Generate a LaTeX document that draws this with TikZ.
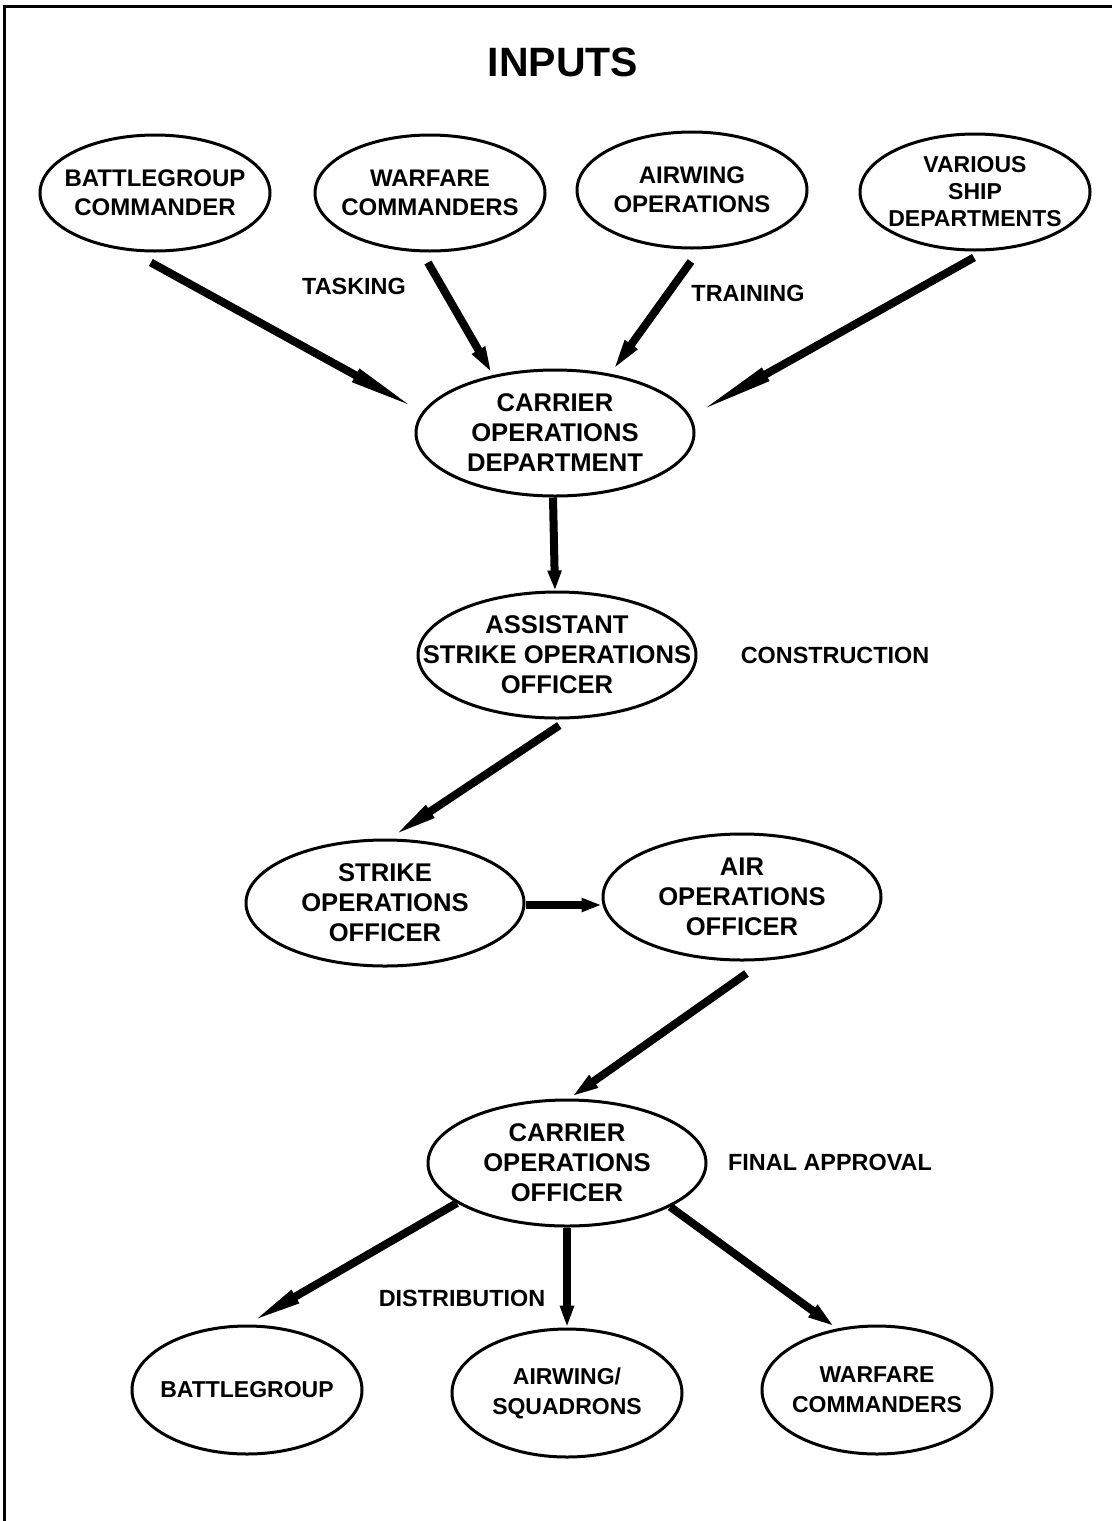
\documentclass[tikz,border=0pt]{standalone}
\usepackage{fontspec}
\setmainfont{Liberation Sans}
\usetikzlibrary{shapes.geometric,arrows.meta,calc}
\tikzset{
  el/.style={ellipse, draw, line width=1.5pt, inner xsep=-40pt, inner ysep=-20pt, align=center},
  small/.style={el, minimum width=115pt, minimum height=58pt, font=\bfseries\fontsize{12}{14.5}\selectfont},
  big/.style={el, minimum width=139pt, minimum height=63pt, font=\bfseries\fontsize{12.8}{15}\selectfont},
  low/.style={el, minimum width=115pt, minimum height=64pt, font=\bfseries\fontsize{11.5}{15}\selectfont},
  lab/.style={font=\bfseries\fontsize{11.7}{14}\selectfont, inner sep=0pt},
  arr/.style={line width=4pt, -{Triangle[length=#1, width=6.5pt]}},
}
\begin{document}
\begin{tikzpicture}[x=0.5pt,y=-0.5pt]
\useasboundingbox (0,0) rectangle (1112,1521);
% frame
\draw[line width=1.5pt] (4,1521) -- (4,6) -- (1112,6);
% title
\node[font=\bfseries\fontsize{20.5}{25}\selectfont, inner sep=0pt] (title) at (563,62) {INPUTS};
% input ellipses
\node[small] (bgc) at (155,193) {BATTLEGROUP\\COMMANDER};
\node[small] (wc)  at (430,193) {WARFARE\\COMMANDERS};
\node[small] (awo) at (692,190) {AIRWING\\OPERATIONS};
\node[small, font=\bfseries\fontsize{11.5}{13.5}\selectfont] (vsd) at (975,192) {\raisebox{2pt}{\parbox{110pt}{\centering VARIOUS\\SHIP\\DEPARTMENTS}}};
% chain
\node[big] (cod)  at (555,433) {CARRIER\\OPERATIONS\\DEPARTMENT};
\node[big] (asoo) at (557,655) {ASSISTANT\\STRIKE OPERATIONS\\OFFICER};
\node[big] (soo)  at (385,903) {STRIKE\\OPERATIONS\\OFFICER};
\node[big] (aoo)  at (742,897) {AIR\\OPERATIONS\\OFFICER};
\node[big] (coo)  at (567,1163) {CARRIER\\OPERATIONS\\OFFICER};
% outputs
\node[low] (bg)  at (247,1390) {BATTLEGROUP};
\node[low] (aws) at (567,1393) {AIRWING/\\SQUADRONS};
\node[low] (wc2) at (877,1390) {WARFARE\\COMMANDERS};
% labels
\node[lab] (tasking)  at (354,286)  {TASKING};
\node[lab] (training) at (748,293)  {TRAINING};
\node[lab] (constr)   at (835,655)  {CONSTRUCTION};
\node[lab] (final)    at (830,1162) {FINAL APPROVAL};
\node[lab] (distr)    at (462,1298) {DISTRIBUTION};
% connectors
\draw[arr=38pt]   ([yshift=-5pt]bgc.-94) -- (cod.171);
\draw[arr=14.5pt] ([yshift=-5pt]wc.-92)  -- (cod.137);
\draw[arr=18pt]   ([yshift=-6pt]awo.-91) -- (cod.47);
\draw[arr=43pt]   ([yshift=-3pt]vsd.-91) -- (cod.7);
\draw[arr=10pt]   ([xshift=-1pt]cod.south) -- ([xshift=-1pt]asoo.north);
\draw[arr=24.5pt] ([yshift=-3pt]asoo.-88) -- (soo.86);
\draw[arr=10pt]   ([yshift=-1pt]soo.east) -- ([yshift=-1pt]soo.east -| aoo.west);
\draw[arr=15pt]   ([yshift=-6pt]aoo.-86) -- (coo.88);
\draw[arr=28pt]   (coo.-160) -- (bg.north);
\draw[arr=11pt]   (coo.south) -- (aws.north);
\draw[arr=15pt]   (coo.-23) -- (wc2.123);
\end{tikzpicture}
\end{document}
